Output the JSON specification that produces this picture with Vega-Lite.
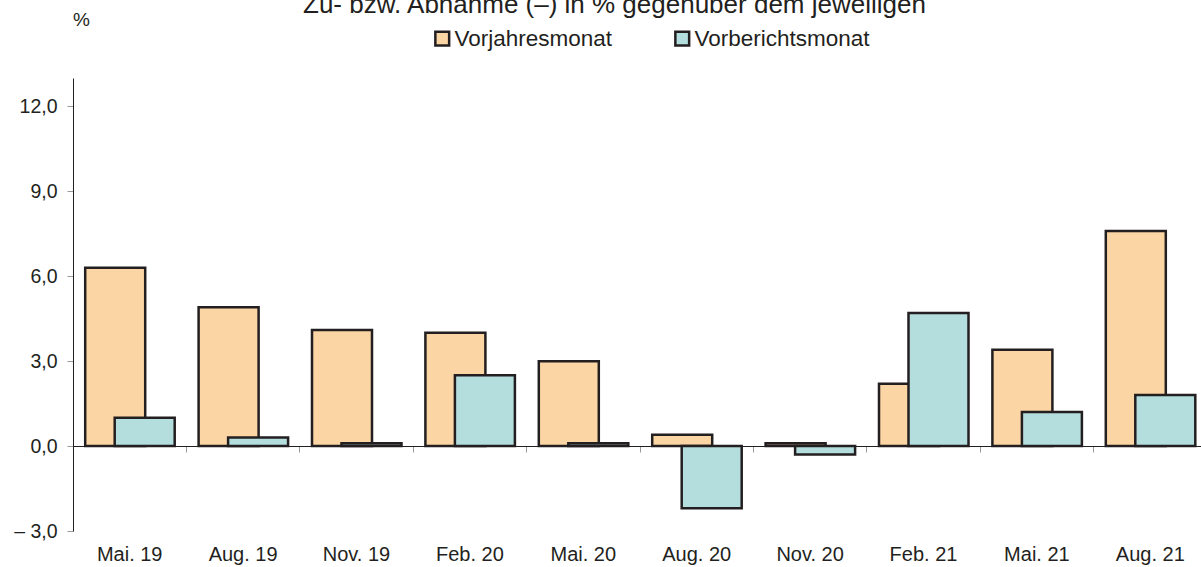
{
  "$schema": "https://vega.github.io/schema/vega-lite/v6.json",
  "width": 1128,
  "height": 453,
  "autosize": "none",
  "padding": {"left": 73, "top": 78, "right": 0, "bottom": 36},
  "background": "white",
  "config": {
    "view": {"stroke": null},
    "font": "Liberation Sans",
    "axis": {"labelColor": "#231f20", "titleColor": "#231f20"}
  },
  "title": {
    "text": "Zu- bzw. Abnahme (–) in % gegenüber dem jeweiligen",
    "fontSize": 26,
    "fontWeight": "normal",
    "color": "#231f20",
    "anchor": "start",
    "frame": "group",
    "dx": 230,
    "dy": 8,
    "offset": 0
  },
  "data": {
    "values": [
      {"month": "Mai. 19", "series": "Vorjahresmonat", "value": 6.3},
      {"month": "Aug. 19", "series": "Vorjahresmonat", "value": 4.9},
      {"month": "Nov. 19", "series": "Vorjahresmonat", "value": 4.1},
      {"month": "Feb. 20", "series": "Vorjahresmonat", "value": 4.0},
      {"month": "Mai. 20", "series": "Vorjahresmonat", "value": 3.0},
      {"month": "Aug. 20", "series": "Vorjahresmonat", "value": 0.4},
      {"month": "Nov. 20", "series": "Vorjahresmonat", "value": 0.1},
      {"month": "Feb. 21", "series": "Vorjahresmonat", "value": 2.2},
      {"month": "Mai. 21", "series": "Vorjahresmonat", "value": 3.4},
      {"month": "Aug. 21", "series": "Vorjahresmonat", "value": 7.6},
      {"month": "Mai. 19", "series": "Vorberichtsmonat", "value": 1.0},
      {"month": "Aug. 19", "series": "Vorberichtsmonat", "value": 0.3},
      {"month": "Nov. 19", "series": "Vorberichtsmonat", "value": 0.1},
      {"month": "Feb. 20", "series": "Vorberichtsmonat", "value": 2.5},
      {"month": "Mai. 20", "series": "Vorberichtsmonat", "value": 0.1},
      {"month": "Aug. 20", "series": "Vorberichtsmonat", "value": -2.2},
      {"month": "Nov. 20", "series": "Vorberichtsmonat", "value": -0.3},
      {"month": "Feb. 21", "series": "Vorberichtsmonat", "value": 4.7},
      {"month": "Mai. 21", "series": "Vorberichtsmonat", "value": 1.2},
      {"month": "Aug. 21", "series": "Vorberichtsmonat", "value": 1.8}
    ]
  },
  "resolve": {"axis": {"x": "independent"}},
  "layer": [
    {
      "transform": [{"filter": "datum.series === 'Vorjahresmonat'"}],
      "mark": {"type": "bar", "width": 60, "xOffset": -14.5, "stroke": "#231f20", "strokeWidth": 2.5},
      "encoding": {
        "x": {
          "field": "month", "type": "nominal", "sort": null,
          "scale": {"range": [0, 1134], "paddingInner": 0, "paddingOuter": 0},
          "axis": {"title": null, "domain": false, "ticks": false, "tickSize": 0, "labelAngle": 0,
                   "labelFontSize": 20, "labelPadding": 13, "grid": false}
        },
        "y": {
          "field": "value", "type": "quantitative",
          "scale": {"domain": [-3, 13], "nice": false, "zero": false},
          "axis": {
            "values": [-3, 0, 3, 6, 9, 12], "grid": false,
            "domainColor": "#231f20", "domainWidth": 1,
            "tickColor": "#999999", "tickSize": 6, "labelPadding": 10, "labelFontSize": 19.5,
            "labelExpr": "datum.value < 0 ? '– ' + replace(format(-datum.value, '.1f'), '.', ',') : replace(format(datum.value, '.1f'), '.', ',')",
            "title": "%", "titleAngle": 0, "titleX": 8, "titleY": -59, "titleFontSize": 19,
            "titleFontWeight": "normal", "titleAlign": "center", "titleBaseline": "middle"
          }
        },
        "color": {
          "field": "series", "type": "nominal",
          "scale": {"domain": ["Vorjahresmonat", "Vorberichtsmonat"], "range": ["#FCD5A5", "#B4DDDD"]},
          "legend": {
            "orient": "none", "legendX": 358, "legendY": -51, "direction": "horizontal",
            "title": null, "symbolType": "square", "symbolSize": 190,
            "symbolStrokeColor": "#231f20", "symbolStrokeWidth": 2.5,
            "labelFontSize": 22.5, "labelColor": "#231f20", "labelOffset": 1, "labelLimit": 400,
            "columnPadding": 57
          }
        }
      }
    },
    {
      "transform": [{"filter": "datum.series === 'Vorberichtsmonat'"}],
      "mark": {"type": "bar", "width": 60, "xOffset": 15, "stroke": "#231f20", "strokeWidth": 2.5},
      "encoding": {
        "x": {
          "field": "month", "type": "nominal", "sort": null,
          "axis": {"title": null, "orient": "bottom", "offset": -85, "labels": false,
                   "domain": true, "domainColor": "#231f20", "domainWidth": 1,
                   "ticks": true, "bandPosition": 0, "tickColor": "#999999", "tickSize": 6, "grid": false}
        },
        "y": {"field": "value", "type": "quantitative"},
        "color": {"field": "series", "type": "nominal"}
      }
    }
  ]
}
